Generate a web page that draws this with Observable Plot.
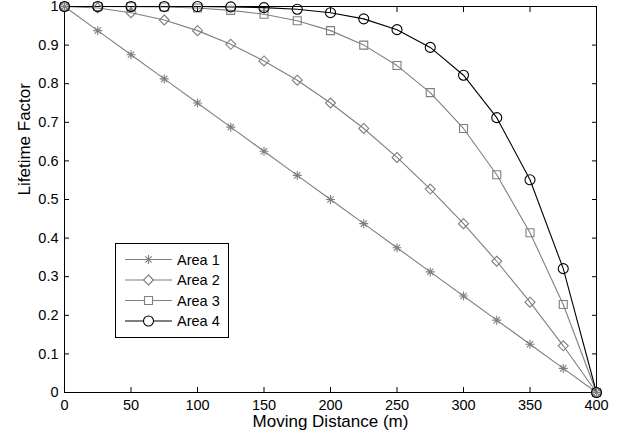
<!DOCTYPE html>
<html>
<head>
<meta charset="utf-8">
<script src="https://cdn.jsdelivr.net/npm/d3@7"></script>
<script src="https://cdn.jsdelivr.net/npm/@observablehq/plot@0.6"></script>
<style>
  html, body { margin: 0; padding: 0; background: #fff; }
  #wrap { position: relative; width: 623px; height: 437px; font-family: "Liberation Sans", Arial, sans-serif; }
  #legend { position: absolute; left: 115px; top: 243px; width: 112px; height: 93px; border: 1px solid #000; background: #fff; }
  #legend svg { position: absolute; left: 0; top: 0; }
</style>
</head>
<body>
<div id="wrap"><div id="legend"></div></div>
<script>
// ---- data ----
const distance = [0, 25, 50, 75, 100, 125, 150, 175, 200, 225, 250, 275, 300, 325, 350, 375, 400];
const area1 = [1, 0.9375, 0.875, 0.8125, 0.75, 0.6875, 0.625, 0.5625, 0.5, 0.4375, 0.375, 0.3125, 0.25, 0.1875, 0.125, 0.0625, 0];
const area2 = [1, 0.996, 0.984, 0.965, 0.9375, 0.902, 0.859, 0.809, 0.75, 0.684, 0.609, 0.527, 0.4375, 0.340, 0.234, 0.121, 0];
const area3 = [1, 1.0, 0.9998, 0.9988, 0.996, 0.990, 0.980, 0.963, 0.9375, 0.900, 0.847, 0.777, 0.684, 0.564, 0.414, 0.228, 0];
const area4 = [1, 1.0, 1.0, 1.0, 1.0, 0.999, 0.997, 0.993, 0.984, 0.968, 0.940, 0.894, 0.822, 0.712, 0.551, 0.321, 0];
const seriesNames = ["Area 1", "Area 2", "Area 3", "Area 4"];
const seriesColors = ["#7f7f7f", "#7f7f7f", "#7f7f7f", "#000000"];
const xTicks = [0, 50, 100, 150, 200, 250, 300, 350, 400];
const yTicks = [0, 0.1, 0.2, 0.3, 0.4, 0.5, 0.6, 0.7, 0.8, 0.9, 1];
const xLabel = "Moving Distance (m)";
const yLabel = "Lifetime Factor";

// ---- marker symbols (MATLAB style) ----
const rad = size => Math.sqrt(size / Math.PI);
const symAsterisk = { draw(c, size) { const r = rad(size), d = r * Math.SQRT1_2;
  c.moveTo(-r, 0); c.lineTo(r, 0); c.moveTo(0, -r); c.lineTo(0, r);
  c.moveTo(-d, -d); c.lineTo(d, d); c.moveTo(-d, d); c.lineTo(d, -d); } };
const symDiamond = { draw(c, size) { const r = rad(size);
  c.moveTo(0, -r); c.lineTo(r, 0); c.lineTo(0, r); c.lineTo(-r, 0); c.closePath(); } };
const symSquare = { draw(c, size) { const r = rad(size); c.rect(-r, -r, 2 * r, 2 * r); } };
const symCircle = { draw(c, size) { const r = rad(size); c.moveTo(r, 0); c.arc(0, 0, r, 0, 2 * Math.PI); } };
const symbols = [symAsterisk, symDiamond, symSquare, symCircle];
const symR = [4.5, 5, 4, 5];

const allSeries = [area1, area2, area3, area4];
const data = allSeries.map(vals => vals.map((v, i) => ({x: distance[i], y: v})));

const marks = [
  Plot.frame({stroke: "#000", strokeWidth: 1}),
  Plot.axisX({anchor: "bottom", ticks: xTicks, tickSize: -5, tickPadding: 12, tickFormat: d => String(d), label: null}),
  Plot.axisX({anchor: "top", ticks: xTicks, tickSize: -5, tickFormat: () => "", label: null}),
  Plot.axisY({anchor: "left", ticks: yTicks, tickSize: -5, tickPadding: 11, tickFormat: d => (d === 0 || d === 1) ? String(d) : d.toFixed(1), label: null}),
  Plot.axisY({anchor: "right", ticks: yTicks, tickSize: -5, tickFormat: () => "", label: null}),
  Plot.text([xLabel], {frameAnchor: "bottom", dy: 34, fontSize: 17}),
  Plot.text([yLabel], {frameAnchor: "left", dx: -40, dy: -4, rotate: -90, fontSize: 17})
];
data.forEach((d, k) => {
  marks.push(Plot.line(d, {x: "x", y: "y", stroke: seriesColors[k], strokeWidth: 1.1}));
});
data.forEach((d, k) => {
  marks.push(Plot.dot(d, {x: "x", y: "y", symbol: symbols[k], r: symR[k], stroke: seriesColors[k], fill: "none", strokeWidth: 1.1}));
});

const chart = Plot.plot({
  width: 623, height: 437,
  marginLeft: 64, marginRight: 27, marginTop: 6, marginBottom: 45,
  x: {domain: [0, 400]},
  y: {domain: [0, 1]},
  style: {fontFamily: "'Liberation Sans', Arial, sans-serif", fontSize: "14.5px", background: "#fff", color: "#000", overflow: "visible"},
  marks
});
const wrap = document.getElementById("wrap");
wrap.insertBefore(chart, wrap.firstChild);

// ---- legend ----
const lg = d3.select("#legend").append("svg").attr("width", 112).attr("height", 93);
const rowY = [15.5, 36, 56.5, 77];
seriesNames.forEach((name, k) => {
  const g = lg.append("g").attr("transform", `translate(0,${rowY[k]})`);
  g.append("line").attr("x1", 9).attr("x2", 56).attr("y1", 0).attr("y2", 0).attr("stroke", seriesColors[k]).attr("stroke-width", 1.1);
  g.append("path").attr("transform", "translate(32.5,0)")
    .attr("d", d3.symbol().type(symbols[k]).size(Math.PI * symR[k] * symR[k])())
    .attr("fill", "#fff").attr("stroke", seriesColors[k]).attr("stroke-width", 1.1);
  g.append("text").attr("x", 61).attr("y", 0).attr("dy", "0.35em")
    .attr("font-family", "'Liberation Sans', Arial, sans-serif").attr("font-size", 14.5).text(name);
});
</script>
</body>
</html>
